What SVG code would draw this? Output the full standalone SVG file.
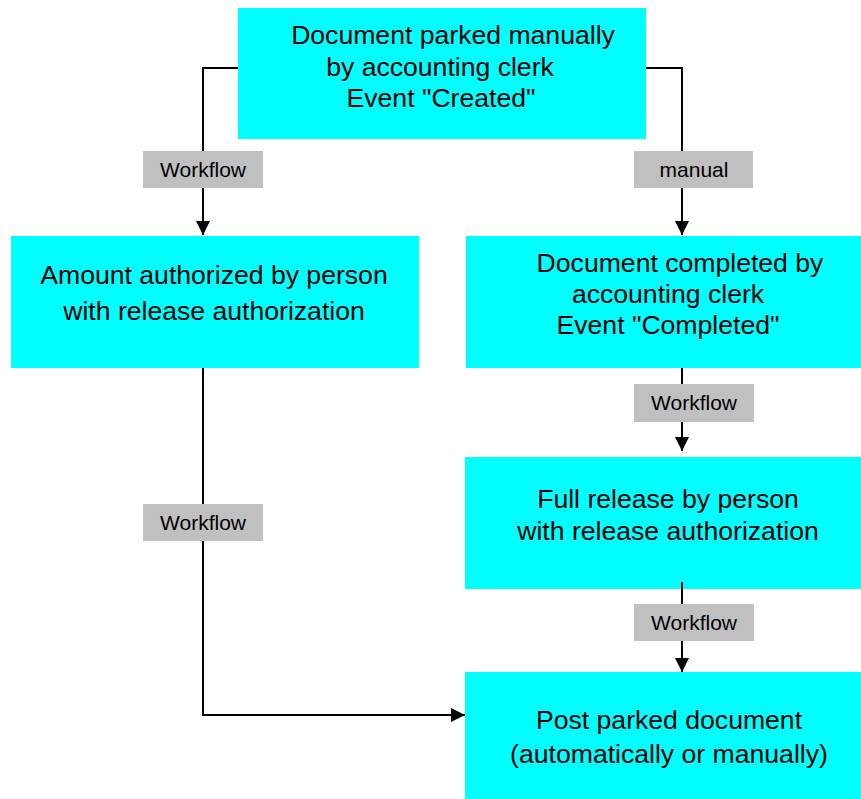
<svg xmlns="http://www.w3.org/2000/svg" width="861" height="799" viewBox="0 0 861 799">
<style>
.box{fill:#00FFFF;stroke:none}
.lbl{fill:#C0C0C0;stroke:none}
.t{font-family:"Liberation Sans",Arial,sans-serif;font-size:26.6px;fill:#000;text-anchor:middle}
.lt{font-family:"Liberation Sans",Arial,sans-serif;font-size:21px;fill:#000;text-anchor:middle}
.c{fill:none;stroke:#000;stroke-width:2}
</style>
<defs>
<marker id="ah" markerUnits="userSpaceOnUse" markerWidth="16" markerHeight="16" refX="14" refY="7" orient="auto">
<path d="M0,0 L14,7 L0,14 Z" fill="#000"/>
</marker>
</defs>
<g id="n1"><rect class="box" x="238" y="8" width="408" height="131"/>
<text class="t" x="453" y="44">Document parked manually</text>
<text class="t" x="440" y="76">by accounting clerk</text>
<text class="t" x="441" y="107">Event "Created"</text></g>
<g id="n2"><rect class="box" x="11" y="236" width="408" height="132"/>
<text class="t" x="214" y="284">Amount authorized by person</text>
<text class="t" x="214" y="320">with release authorization</text></g>
<g id="n3"><rect class="box" x="466" y="236" width="395" height="132"/>
<text class="t" x="680" y="272">Document completed by</text>
<text class="t" x="668" y="303">accounting clerk</text>
<text class="t" x="668" y="334">Event "Completed"</text></g>
<g id="n4"><rect class="box" x="465" y="457" width="396" height="132"/>
<text class="t" x="668" y="508">Full release by person</text>
<text class="t" x="668" y="540">with release authorization</text></g>
<g id="n5"><rect class="box" x="465" y="672" width="396" height="127"/>
<text class="t" x="669" y="729">Post parked document</text>
<text class="t" x="669" y="763">(automatically or manually)</text></g>
<g id="connectors">
<path class="c" d="M238,68 H203 V235" marker-end="url(#ah)"/>
<path class="c" d="M646,68 H682 V235" marker-end="url(#ah)"/>
<path class="c" d="M203,368 V715 H465" marker-end="url(#ah)"/>
<path class="c" d="M682,368 V451" marker-end="url(#ah)"/>
<path class="c" d="M682,582 V672" marker-end="url(#ah)"/>
</g>
<g id="labels">
<rect class="lbl" x="143" y="151" width="120" height="37"/>
<text class="lt" x="203" y="177">Workflow</text>
<rect class="lbl" x="634" y="151" width="119" height="37"/>
<text class="lt" x="694" y="177">manual</text>
<rect class="lbl" x="634" y="384" width="120" height="38"/>
<text class="lt" x="694" y="410">Workflow</text>
<rect class="lbl" x="143" y="504" width="120" height="37"/>
<text class="lt" x="203" y="530">Workflow</text>
<rect class="lbl" x="634" y="604" width="120" height="37"/>
<text class="lt" x="694" y="630">Workflow</text>
</g>
</svg>
